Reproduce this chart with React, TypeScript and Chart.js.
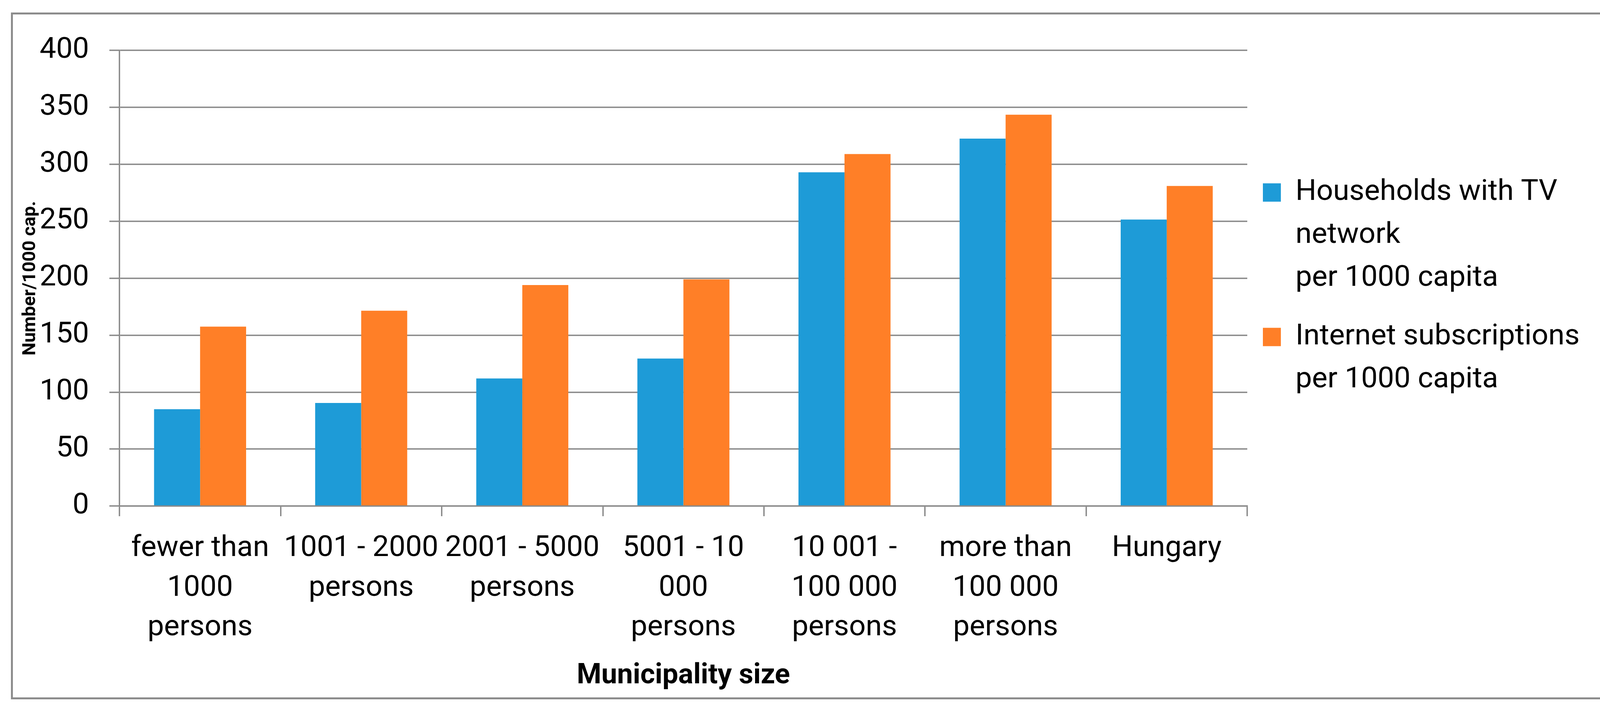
import React, { useEffect, useRef } from 'react';
import { Chart, registerables } from 'chart.js';

Chart.register(...registerables);
Chart.defaults.font.family = 'Roboto';

const categories: string[][] = [
  ['fewer than', '1000', 'persons'],
  ['1001 - 2000', 'persons'],
  ['2001 - 5000', 'persons'],
  ['5001 - 10', '000', 'persons'],
  ['10 001 -', '100 000', 'persons'],
  ['more than', '100 000', 'persons'],
  ['Hungary'],
];
const seriesNames: string[][] = [
  ['Households with TV', 'network', 'per 1000 capita'],
  ['Internet subscriptions', 'per 1000 capita'],
];
const tvValues: number[] = [85, 90.5, 112, 129.5, 293, 322.5, 251.5];
const internetValues: number[] = [157.5, 171.5, 194, 199, 309, 343.5, 281];
const yMin = 0;
const yMax = 400;
const yStep = 50;
const xTitle = 'Municipality size';
const yTitle = 'Number/1000 cap.';

const W = 4152;
const H = 1826;
const GRAY = '#898989';
const BLUE = '#1E9BD7';
const ORANGE = '#FF7F27';

export default function App() {
  const ref = useRef<HTMLCanvasElement>(null);

  useEffect(() => {
    const canvas = ref.current;
    if (!canvas) return;
    const fs = 75;
    const legendPad = 40;
    const boxW = 46;
    const m = document.createElement('canvas').getContext('2d')!;
    m.font = `normal ${fs}px Roboto`;
    let longest = '';
    seriesNames.forEach((s) => {
      const l = s.reduce((a, b) => (a.length > b.length ? a : b));
      if (l.length > longest.length) longest = l;
    });
    const textW = m.measureText(longest).width;
    const legendWidth = legendPad + boxW + fs / 2 + textW + 10;
    const plotLeft = 306;
    const plotRight = 3193;
    const plotTop = 129;
    const plotBottom = 1296;

    const chart = new Chart(canvas, {
      type: 'bar',
      data: {
        labels: categories,
        datasets: [
          {
            label: seriesNames[0] as any,
            data: tvValues,
            backgroundColor: BLUE,
            borderWidth: 0,
            categoryPercentage: 0.5714,
            barPercentage: 1,
          },
          {
            label: seriesNames[1] as any,
            data: internetValues,
            backgroundColor: ORANGE,
            borderWidth: 0,
            categoryPercentage: 0.5714,
            barPercentage: 1,
          },
        ],
      },
      options: {
        animation: false,
        responsive: true,
        maintainAspectRatio: false,
        layout: {
          padding: { left: 0, top: plotTop, right: W - plotRight - legendWidth, bottom: 0 },
        },
        plugins: {
          tooltip: { enabled: false },
          legend: {
            position: 'right',
            fullSize: false,
            align: 'center',
            title: {
              display: true,
              text: ' ',
              font: { size: 20, lineHeight: 1.2 },
              padding: { top: 26, bottom: 26 } as any,
            },
            labels: {
              boxWidth: boxW,
              boxHeight: 47,
              padding: legendPad,
              color: '#000',
              font: { size: fs, lineHeight: 1.4667 },
            },
          },
        },
        scales: {
          x: {
            ticks: {
              color: '#000',
              font: { size: fs, lineHeight: 1.353 },
              padding: 33,
              autoSkip: false,
              maxRotation: 0,
              minRotation: 0,
            },
            grid: {
              drawOnChartArea: false,
              drawTicks: true,
              tickLength: 26,
              color: GRAY,
              lineWidth: 3.5,
              offset: true,
            },
            border: { display: true, color: GRAY, width: 3.5 },
            title: {
              display: true,
              text: xTitle,
              color: '#000',
              font: { size: 72, weight: 'bold' },
              padding: { top: 0, bottom: 51 },
            },
            afterFit: (s: any) => {
              s.height = H - plotBottom;
            },
          },
          y: {
            min: yMin,
            max: yMax,
            ticks: {
              stepSize: yStep,
              color: '#000',
              font: { size: fs },
              padding: 52,
            },
            grid: {
              color: GRAY,
              lineWidth: 3.5,
              tickLength: 26,
              drawTicks: true,
            },
            border: { display: true, color: GRAY, width: 3.5 },
            title: {
              display: true,
              text: yTitle,
              color: '#000',
              font: { size: 47, weight: 'bold' },
              padding: { top: 50, bottom: 0 },
            },
            afterFit: (s: any) => {
              s.width = plotLeft;
            },
          },
        },
      },
    });
    return () => chart.destroy();
  }, []);

  return (
    <div style={{ position: 'fixed', left: 0, top: 0, width: W, height: H, background: '#fff' }}>
      <div
        style={{
          position: 'absolute',
          left: 28,
          top: 32,
          width: 4082,
          height: 1759,
          border: '5px solid #8c8c8c',
          boxSizing: 'border-box',
        }}
      />
      <div style={{ position: 'absolute', left: 0, top: 0, width: W, height: H }}>
        <canvas ref={ref} />
      </div>
    </div>
  );
}
